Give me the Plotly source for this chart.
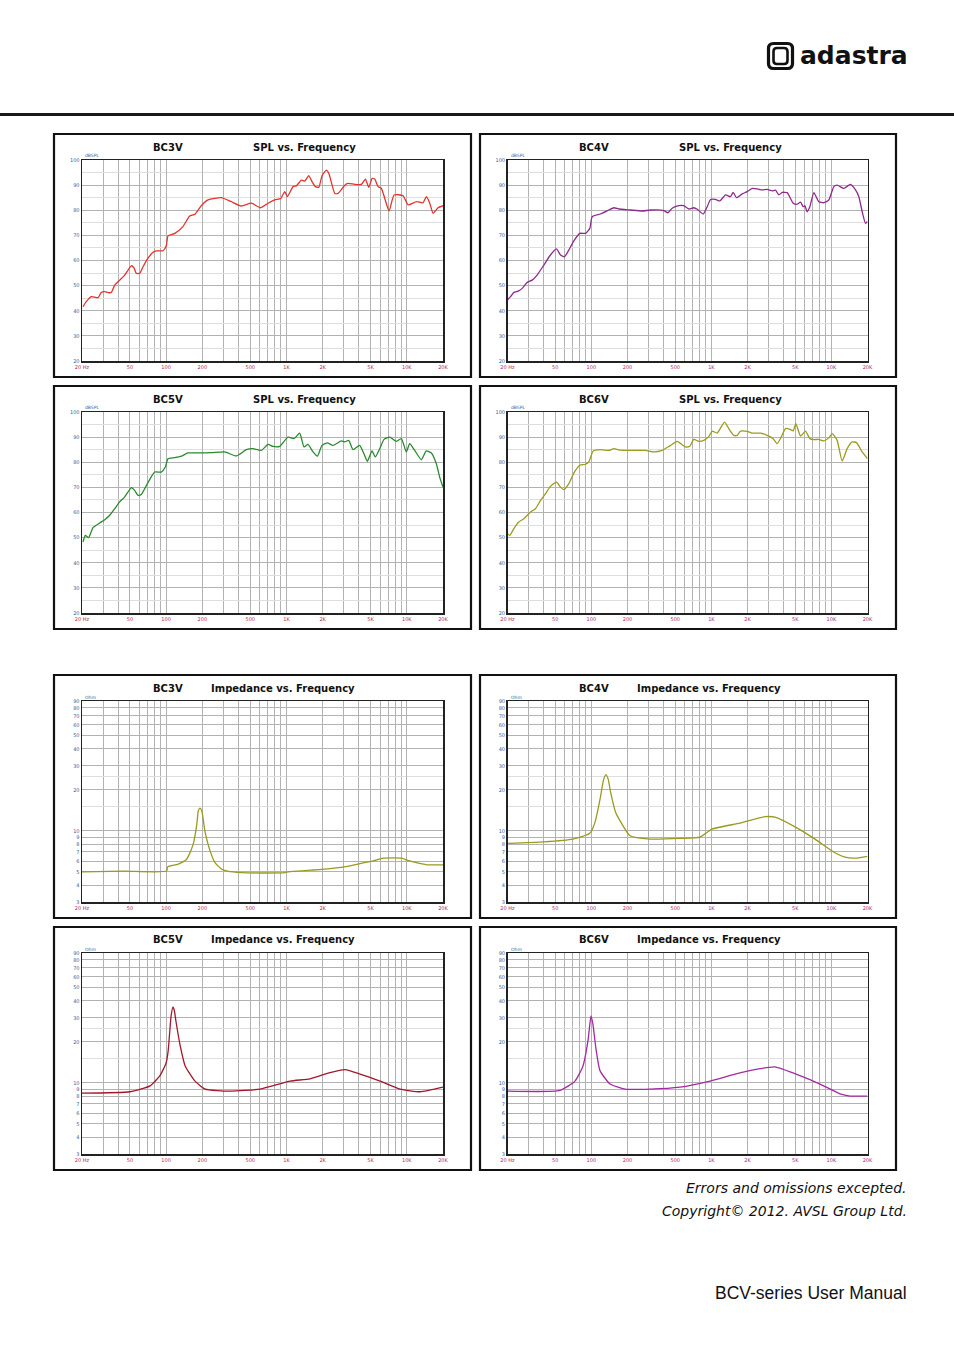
import math
import plotly.graph_objects as go

W, H = 954, 1353

# ---------------- SPL data (Hz, dBSPL) ----------------
bc3v_spl_hz = [20.4, 21.7, 23.9, 27.2, 28.9, 30.9, 32.9, 35.1, 37.4, 41.2, 45.3, 48.3, 51.4, 54.1, 56.5,
               60.3, 64.3, 70.7, 77.8, 83.0, 94.2, 100.4, 103.7, 118, 138, 157, 173, 196, 223, 253, 288,
               348, 422, 511, 611, 703, 800, 898, 968, 1018, 1135, 1209, 1331, 1420, 1532, 1633, 1739,
               1857, 1978, 2148, 2249, 2524, 2687, 3055, 3252, 3697, 4197, 4531, 4834, 5151, 5422, 5773,
               6151, 6565, 7128, 7846, 9317, 10252, 12020, 13670, 14560, 15530, 16550, 18200, 20000]
bc3v_spl_db = [41.6, 43.6, 45.6, 45.2, 47.3, 47.6, 47.2, 47.3, 50.2, 52.2, 54.2, 56.2, 57.9, 57.1, 54.9,
               54.9, 57.5, 60.9, 63.3, 63.8, 63.9, 65.9, 69.8, 70.8, 73.5, 77.7, 78.4, 81.8, 84.1, 84.7,
               85.0, 83.4, 81.7, 82.8, 81.0, 82.8, 84.1, 84.7, 87.4, 85.4, 89.4, 89.7, 92.0, 91.6, 93.8,
               91.4, 89.4, 89.1, 93.8, 96.0, 94.7, 86.7, 86.7, 90.0, 90.7, 90.3, 90.3, 92.4, 89.1, 92.7,
               92.4, 89.4, 88.7, 84.7, 79.7, 86.1, 85.8, 82.1, 83.4, 83.0, 85.4, 82.8, 78.8, 81.0, 81.8]

bc4v_spl_hz = [20, 21.2, 22.6, 24.8, 26.5, 29.2, 32.1, 35.3, 40.2, 45.6, 51.2, 55.3, 59.7, 64.9, 71.4,
               80.1, 89.3, 97.1, 101.6, 119, 140, 154, 169, 212, 265, 311, 402, 434, 471, 536, 589, 649,
               714, 762, 855, 923, 985, 1083, 1176, 1312, 1443, 1520, 1619, 1805, 1987, 2188, 2409, 2650,
               2917, 3210, 3422, 3648, 3889, 4284, 4808, 5188, 5535, 5823, 6012, 6285, 6614, 7146, 7855,
               8649, 9524, 10480, 11170, 12700, 14430, 15890, 16940, 18070, 19250, 20000]
bc4v_spl_db = [44.3, 45.6, 47.3, 47.9, 48.9, 51.3, 52.2, 54.2, 58.2, 62.2, 64.6, 62.2, 61.5, 64.2, 67.8,
               70.8, 70.8, 72.8, 77.4, 78.5, 80.1, 81.0, 80.5, 80.1, 79.7, 80.1, 79.9, 79.0, 80.8, 81.8,
               81.8, 80.5, 81.0, 80.4, 78.5, 81.4, 84.3, 84.3, 83.7, 86.1, 85.4, 87.1, 85.0, 86.5, 87.4,
               88.7, 88.5, 88.1, 88.3, 87.7, 88.0, 86.1, 87.1, 87.0, 82.8, 82.4, 83.2, 81.4, 81.8, 79.4,
               81.4, 87.0, 83.4, 83.0, 84.1, 89.4, 90.0, 88.7, 90.3, 88.1, 85.4, 79.4, 74.8, 75.5]

bc5v_spl_hz = [20.4, 21.3, 22.7, 24.7, 28.0, 30.9, 34.0, 37.4, 41.1, 45.3, 51.4, 54.8, 58.4, 62.2, 66.4,
               73.0, 80.3, 91.3, 98.6, 103.7, 118, 134, 152, 184, 238, 307, 384, 464, 527, 618, 703, 773,
               879, 1030, 1156, 1288, 1400, 1511, 1664, 1807, 1975, 2188, 2438, 2858, 3048, 3290, 3574,
               4057, 4406, 4699, 5141, 5484, 5958, 6473, 7213, 8190, 9015, 9915, 10570, 11640, 13220,
               14530, 16000, 17610, 18760, 20000]
bc5v_spl_db = [48.3, 50.9, 50.0, 54.0, 55.8, 57.1, 58.9, 61.5, 64.2, 66.2, 69.9, 68.8, 66.8, 67.2, 69.5,
               73.1, 76.1, 76.1, 78.1, 81.4, 81.8, 82.4, 83.7, 83.7, 83.8, 84.1, 82.5, 85.0, 85.4, 84.7,
               87.1, 86.3, 86.3, 90.0, 89.4, 91.6, 86.1, 87.1, 84.1, 82.4, 86.7, 87.7, 86.7, 88.5, 88.1,
               88.7, 85.0, 86.7, 83.4, 80.4, 84.5, 82.1, 85.4, 89.1, 90.0, 88.3, 89.4, 84.1, 87.4, 84.7,
               81.0, 84.5, 83.7, 79.4, 74.1, 70.1]

bc6v_spl_hz = [20, 20.9, 22.6, 24.8, 27.4, 31.1, 34.2, 37.7, 41.5, 45.6, 51.2, 55.3, 58.9, 64.9, 71.4,
               80.1, 89.3, 95.2, 103.5, 119, 140, 154, 175, 226, 282, 331, 389, 456, 519, 608, 661, 714,
               785, 865, 953, 1016, 1117, 1286, 1425, 1538, 1640, 1750, 1987, 2188, 2566, 2917, 3273,
               3532, 3819, 4150, 4562, 4808, 5059, 5535, 6086, 6614, 7146, 7855, 8649, 9524, 10160,
               11170, 12300, 13540, 14900, 16190, 18070, 20000]
bc6v_spl_db = [51.6, 50.9, 53.6, 56.2, 57.5, 60.2, 61.5, 64.8, 67.5, 70.4, 72.1, 70.1, 69.1, 71.5, 75.7,
               78.8, 79.2, 80.1, 84.5, 85.0, 84.7, 85.4, 84.8, 84.7, 84.7, 84.1, 84.7, 86.7, 88.3, 86.1,
               86.4, 89.1, 88.3, 88.7, 90.3, 92.4, 91.6, 96.0, 92.7, 90.7, 90.7, 92.4, 92.3, 91.6, 91.6,
               90.7, 89.4, 87.4, 90.0, 93.4, 93.0, 92.5, 95.4, 90.4, 92.4, 89.4, 89.0, 89.1, 88.5, 89.7,
               91.4, 88.7, 80.5, 85.4, 88.1, 87.8, 84.1, 81.4]

# ---------------- Impedance data (Hz, Ohm) ----------------
bc3v_imp_hz = [20, 45, 101, 103, 126, 148, 158, 168, 180, 185, 191, 198, 210, 232, 255, 290, 329, 425,
               604, 973, 1038, 1571, 2304, 3381, 4096, 5284, 6400, 9099, 10000, 11360, 14650, 20000]
bc3v_imp_ohm = [5.0, 5.05, 5.06, 5.43, 5.69, 6.19, 6.92, 7.98, 11.2, 14.0, 14.7, 14.0, 10.0, 7.13, 5.85,
                5.22, 5.03, 4.93, 4.90, 4.93, 5.0, 5.14, 5.28, 5.53, 5.75, 6.02, 6.30, 6.30, 6.09, 5.91,
                5.63, 5.63]

bc4v_imp_hz = [20, 40, 70, 97, 107, 118, 126, 132, 138, 145, 160, 173, 210, 308, 550, 803, 1012, 1732,
               2799, 3390, 4978, 7303, 10710, 12990, 16000, 20000]
bc4v_imp_ohm = [8.1, 8.3, 8.7, 9.6, 11.5, 17.0, 23.5, 25.9, 24.0, 19.0, 13.5, 11.9, 9.2, 8.7, 8.8, 9.0,
                10.3, 11.4, 12.7, 12.6, 10.7, 8.7, 6.9, 6.4, 6.3, 6.5]

bc5v_imp_hz = [20, 50.1, 73.5, 88.9, 100, 104, 110, 114, 117, 121, 131, 144, 174, 211, 340, 604, 1072,
               1571, 2304, 3070, 4096, 6000, 8800, 12900, 20000]
bc5v_imp_ohm = [8.4, 8.6, 9.5, 11.3, 14.0, 17.2, 31.0, 36.2, 34.0, 28.0, 18.7, 13.3, 10.3, 9.0, 8.7, 9.0,
                10.3, 10.7, 11.9, 12.5, 11.6, 10.3, 9.0, 8.6, 9.3]

bc6v_imp_hz = [20, 54.8, 73.0, 85.1, 93.7, 99.2, 103, 109, 118, 143, 191, 308, 548, 974, 1574, 2541,
               3390, 5476, 8039, 11800, 14290, 20000]
bc6v_imp_ohm = [8.7, 8.8, 10.3, 13.3, 20.4, 31.0, 27.0, 18.0, 12.3, 9.8, 9.0, 9.0, 9.3, 10.3, 11.6, 12.7,
                13.1, 11.3, 9.8, 8.3, 8.0, 8.0]

# ---------------- axis ticks ----------------
freq_ticks = [20, 50, 100, 200, 500, 1000, 2000, 5000, 10000, 20000]
freq_labels = ["20 Hz", "50", "100", "200", "500", "1K", "2K", "5K", "10K", "20K"]
freq_grid = [30, 40, 60, 70, 80, 90, 300, 400, 600, 700, 800, 900,
             3000, 4000, 6000, 7000, 8000, 9000]
spl_ticks = [20, 30, 40, 50, 60, 70, 80, 90, 100]
spl_grid = [25, 35, 45, 55, 65, 75, 85, 95]
ohm_ticks = [3, 4, 5, 6, 7, 8, 9, 10, 20, 30, 40, 50, 60, 70, 80, 90]
ohm_grid = [15, 25]

# ---------------- layout helpers ----------------
def px(x):
    return x / W


def py(y):
    return 1 - y / H


TICK_X_COLOR = "#b0285e"
TICK_Y_COLOR = "#2f5f9e"
GRID_MAJOR = "#b2b2b2"
GRID_MINOR = "#dedede"

panels = [
    # name, kind, panel box (x0,y0,x1,y1), plot box (x0,y0,x1,y1), hz, values, color
    ("BC3V", "spl", (54, 134, 471, 377), (82, 160, 443, 361), bc3v_spl_hz, bc3v_spl_db, "#e5322c"),
    ("BC4V", "spl", (480, 134, 896, 377), (507.5, 160, 867.5, 361), bc4v_spl_hz, bc4v_spl_db, "#8f2a8c"),
    ("BC5V", "spl", (54, 386, 471, 629), (82, 412, 443, 613), bc5v_spl_hz, bc5v_spl_db, "#2a8a2e"),
    ("BC6V", "spl", (480, 386, 896, 629), (507.5, 412, 867.5, 613), bc6v_spl_hz, bc6v_spl_db, "#9d9b1e"),
    ("BC3V", "imp", (54, 675, 471, 918), (82, 701, 443, 902), bc3v_imp_hz, bc3v_imp_ohm, "#9a9a1e"),
    ("BC4V", "imp", (480, 675, 896, 918), (507.5, 701, 867.5, 902), bc4v_imp_hz, bc4v_imp_ohm, "#9a9a1e"),
    ("BC5V", "imp", (54, 927, 471, 1170), (82, 953, 443, 1154), bc5v_imp_hz, bc5v_imp_ohm, "#a3172c"),
    ("BC6V", "imp", (480, 927, 896, 1170), (507.5, 953, 867.5, 1154), bc6v_imp_hz, bc6v_imp_ohm, "#a42aa4"),
]

fig = go.Figure()
layout = dict(
    template="none",
    width=W, height=H, margin=dict(l=0, r=0, t=0, b=0, pad=0), autosize=False,
    paper_bgcolor="white", plot_bgcolor="white", showlegend=False,
    font=dict(family="DejaVu Sans", color="#111111"),
)
shapes = []
annotations = []

for i, (name, kind, box, pbox, hz, vals, color) in enumerate(panels, start=1):
    xa = "x" if i == 1 else f"x{i}"
    ya = "y" if i == 1 else f"y{i}"
    xkey = "xaxis" if i == 1 else f"xaxis{i}"
    ykey = "yaxis" if i == 1 else f"yaxis{i}"
    fig.add_trace(go.Scatter(x=hz, y=vals, xaxis=xa, yaxis=ya, mode="lines",
                             line=dict(color=color, width=1.3, shape="spline", smoothing=0.5),
                             hoverinfo="skip"))
    x0, y0, x1, y1 = pbox
    layout[xkey] = dict(
        type="log", range=[math.log10(20), math.log10(20000)],
        domain=[px(x0), px(x1)], anchor=ya, automargin=False,
        tickmode="array", tickvals=freq_ticks, ticktext=freq_labels, ticks="",
        showgrid=True, gridcolor=GRID_MAJOR, gridwidth=1,
        minor=dict(tickmode="array", tickvals=freq_grid, showgrid=True,
                   gridcolor=GRID_MAJOR, gridwidth=1, ticks=""),
        showline=True, linecolor="#222222", linewidth=1.5, mirror=True, zeroline=False,
        tickfont=dict(size=5, color=TICK_X_COLOR, family="DejaVu Sans"),
        fixedrange=True,
    )
    if kind == "spl":
        layout[ykey] = dict(
            type="linear", range=[20, 100], domain=[py(y1), py(y0)], anchor=xa, automargin=False,
            tickmode="array", tickvals=spl_ticks, ticktext=[str(v) for v in spl_ticks], ticks="",
            showgrid=True, gridcolor=GRID_MAJOR, gridwidth=1,
            minor=dict(tickmode="array", tickvals=spl_grid, showgrid=True,
                       gridcolor=GRID_MINOR, gridwidth=1, ticks=""),
            showline=True, linecolor="#222222", linewidth=1.5, mirror=True, zeroline=False,
            tickfont=dict(size=5, color=TICK_Y_COLOR, family="DejaVu Sans"),
            fixedrange=True,
        )
        unit = "dBSPL"
        subtitle = "SPL vs. Frequency"
        sub_dx = 136
    else:
        layout[ykey] = dict(
            type="log", range=[math.log10(3), math.log10(90)], domain=[py(y1), py(y0)], anchor=xa,
            automargin=False,
            tickmode="array", tickvals=ohm_ticks, ticktext=[str(v) for v in ohm_ticks], ticks="",
            showgrid=True, gridcolor=GRID_MAJOR, gridwidth=1,
            minor=dict(tickmode="array", tickvals=ohm_grid, showgrid=True,
                       gridcolor=GRID_MINOR, gridwidth=1, ticks=""),
            showline=True, linecolor="#222222", linewidth=1.5, mirror=True, zeroline=False,
            tickfont=dict(size=5, color=TICK_Y_COLOR, family="DejaVu Sans"),
            fixedrange=True,
        )
        unit = "Ohm"
        subtitle = "Impedance vs. Frequency"
        sub_dx = 115

    bx0, by0, bx1, by1 = box
    shapes.append(dict(type="rect", xref="paper", yref="paper",
                       x0=px(bx0), x1=px(bx1), y0=py(by1), y1=py(by0),
                       line=dict(color="#111111", width=2.2), fillcolor="rgba(0,0,0,0)", layer="above"))
    name_x = bx0 + 114
    annotations.append(dict(text=f"<b>{name}</b>", x=px(name_x), y=py(by0 + 13), xref="paper", yref="paper",
                            showarrow=False, xanchor="center", yanchor="middle",
                            font=dict(size=10, color="#111111", family="DejaVu Sans")))
    annotations.append(dict(text=f"<b>{subtitle}</b>", x=px(name_x + sub_dx), y=py(by0 + 13),
                            xref="paper", yref="paper", showarrow=False, xanchor="center", yanchor="middle",
                            font=dict(size=10, color="#111111", family="DejaVu Sans")))
    annotations.append(dict(text=unit, x=px(x0 + 1), y=py(y0 - 4), xref="paper", yref="paper",
                            showarrow=False, xanchor="left", yanchor="middle",
                            font=dict(size=4.5, color=TICK_Y_COLOR, family="DejaVu Sans")))

# header rule
shapes.append(dict(type="line", xref="paper", yref="paper", x0=0, x1=1, y0=py(114.5), y1=py(114.5),
                   line=dict(color="#1a1a1a", width=3)))


def rounded_path(x0, y0, x1, y1, r):
    a, b, c, d = px(x0), px(x1), py(y0), py(y1)
    rx, ry = r / W, r / H
    return (f"M {a + rx},{c} L {b - rx},{c} Q {b},{c} {b},{c - ry} "
            f"L {b},{d + ry} Q {b},{d} {b - rx},{d} "
            f"L {a + rx},{d} Q {a},{d} {a},{d + ry} "
            f"L {a},{c - ry} Q {a},{c} {a + rx},{c} Z")


shapes.append(dict(type="path", xref="paper", yref="paper", path=rounded_path(768.5, 43.5, 792.5, 68.5, 5),
                   line=dict(color="#111111", width=3.2)))
shapes.append(dict(type="path", xref="paper", yref="paper", path=rounded_path(773.5, 48, 787.5, 64, 3.5),
                   line=dict(color="#111111", width=2.6)))
annotations.append(dict(text="<b>adastra</b>", x=px(910), y=py(56), xref="paper", yref="paper",
                        showarrow=False, xanchor="right", yanchor="middle",
                        font=dict(size=25, color="#111111", family="DejaVu Sans")))

# footer
annotations.append(dict(text="<i>Errors and omissions excepted.</i>", x=px(909), y=py(1188),
                        xref="paper", yref="paper", showarrow=False, xanchor="right", yanchor="middle",
                        font=dict(size=14, color="#111111", family="DejaVu Sans")))
annotations.append(dict(text="<i>Copyright© 2012. AVSL Group Ltd.</i>", x=px(909), y=py(1211),
                        xref="paper", yref="paper", showarrow=False, xanchor="right", yanchor="middle",
                        font=dict(size=14, color="#111111", family="DejaVu Sans")))
annotations.append(dict(text="BCV-series User Manual", x=px(909), y=py(1293),
                        xref="paper", yref="paper", showarrow=False, xanchor="right", yanchor="middle",
                        font=dict(size=17.5, color="#111111", family="Liberation Sans")))

layout["shapes"] = shapes
layout["annotations"] = annotations
fig.update_layout(**layout)
fig.write_html("out.html", config={"displayModeBar": False, "staticPlot": True},
               post_script="document.body.style.margin='0px';document.body.style.overflow='hidden';")
